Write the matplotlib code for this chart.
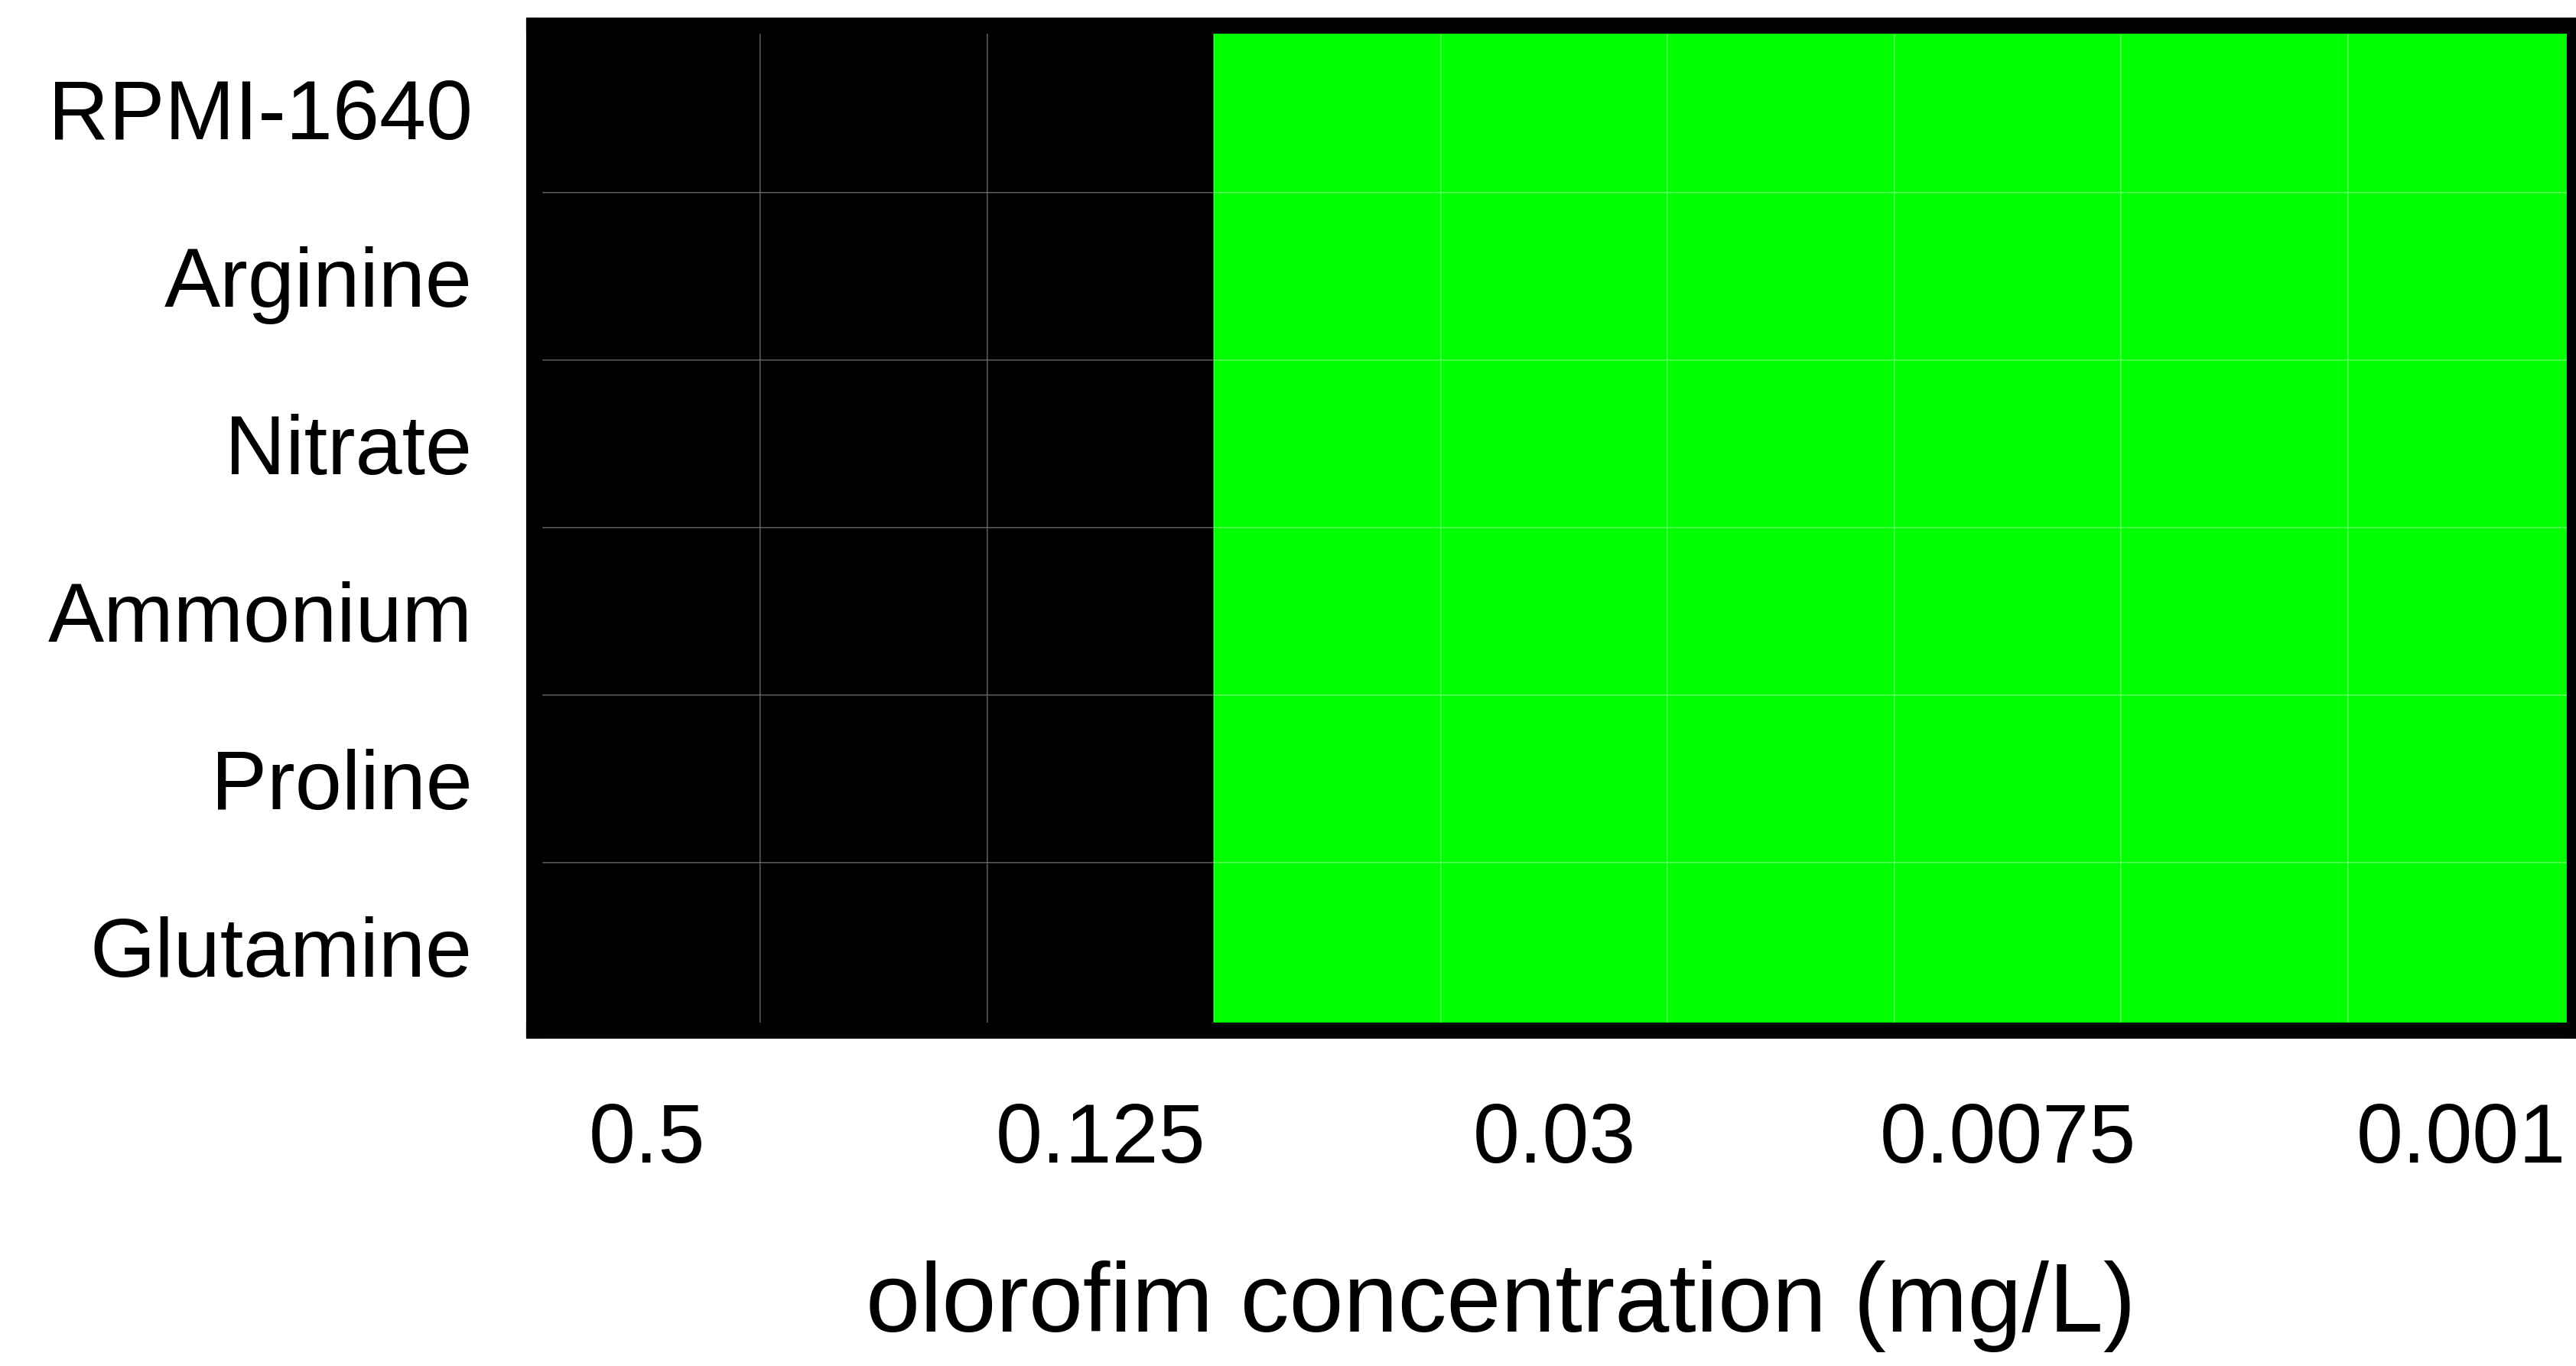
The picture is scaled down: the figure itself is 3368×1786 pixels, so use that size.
import matplotlib
matplotlib.use("Agg")
import matplotlib.pyplot as plt
from matplotlib.colors import ListedColormap
import numpy as np

# Growth media (rows, top to bottom) and olorofim two-fold dilution series (columns)
media = ["RPMI-1640", "Arginine", "Nitrate", "Ammonium", "Proline", "Glutamine"]
concentrations = ["0.5", "0.25", "0.125", "0.06", "0.03", "0.015", "0.0075", "0.004", "0.001"]
labelled_concentrations = ["0.5", "0.125", "0.03", "0.0075", "0.001"]

# 0 = no growth (black), 1 = growth (green)
growth_rpmi = [0, 0, 0, 1, 1, 1, 1, 1, 1]
growth_arginine = [0, 0, 0, 1, 1, 1, 1, 1, 1]
growth_nitrate = [0, 0, 0, 1, 1, 1, 1, 1, 1]
growth_ammonium = [0, 0, 0, 1, 1, 1, 1, 1, 1]
growth_proline = [0, 0, 0, 1, 1, 1, 1, 1, 1]
growth_glutamine = [0, 0, 0, 1, 1, 1, 1, 1, 1]

growth = np.array([growth_rpmi, growth_arginine, growth_nitrate,
                   growth_ammonium, growth_proline, growth_glutamine])

plt.rcParams["font.family"] = ["Liberation Sans", "DejaVu Sans"]

W, H, DPI = 3368, 1786, 200
fig = plt.figure(figsize=(W / DPI, H / DPI), dpi=DPI, facecolor="white")

left, right, top, bottom = 698, 3366, 33, 1347
ax = fig.add_axes([left / W, 1 - bottom / H, (right - left) / W, (bottom - top) / H])

cmap = ListedColormap(["#000000", "#00ff00"])
ncol = len(concentrations)
nrow = len(media)
ax.pcolormesh(np.arange(ncol + 1), np.arange(nrow + 1), growth, cmap=cmap,
              vmin=0, vmax=1, edgecolors=(1, 1, 1, 0.2), linewidth=0.7)

ax.set_xlim(0, ncol)
ax.set_ylim(nrow, 0)

label_pos = [concentrations.index(c) + 0.5 for c in labelled_concentrations]
ax.set_xticks(label_pos)
ax.set_xticklabels(labelled_concentrations, fontsize=39.5)
ax.set_yticks(np.arange(nrow) + 0.5)
ax.set_yticklabels(media, fontsize=39.5)
ax.tick_params(axis="x", length=0, pad=34)
ax.tick_params(axis="y", length=0, pad=29)

for s in ax.spines.values():
    s.set_linewidth(7.6)
    s.set_color("black")

ax.set_xlabel("olorofim concentration (mg/L)", fontsize=46)
ax.xaxis.label.set_va("center")
ax.xaxis.set_label_coords(0.474, -0.275)

fig.savefig("out.png", dpi=DPI, facecolor="white")
